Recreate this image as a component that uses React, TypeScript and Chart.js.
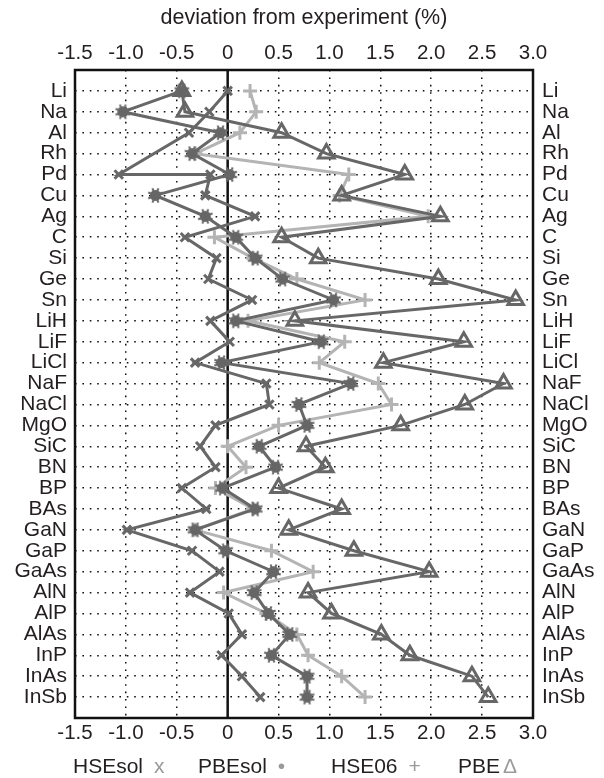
import React, { useEffect, useRef } from 'react';
import { Chart, registerables } from 'chart.js';

Chart.register(...registerables);

const categories = [
  'Li', 'Na', 'Al', 'Rh', 'Pd', 'Cu', 'Ag', 'C', 'Si', 'Ge', 'Sn', 'LiH', 'LiF', 'LiCl', 'NaF',
  'NaCl', 'MgO', 'SiC', 'BN', 'BP', 'BAs', 'GaN', 'GaP', 'GaAs', 'AlN', 'AlP', 'AlAs', 'InP', 'InAs', 'InSb',
];

const xTickValues = [-1.5, -1.0, -0.5, 0, 0.5, 1.0, 1.5, 2.0, 2.5, 3.0];
const axisTitle = 'deviation from experiment (%)';

// HSEsol: no Rh value, two points on the Pd row (as plotted in the reference)
const hseSolCategories = [
  'Li', 'Na', 'Al', 'Pd', 'Pd', 'Cu', 'Ag', 'C', 'Si', 'Ge', 'Sn', 'LiH', 'LiF', 'LiCl', 'NaF',
  'NaCl', 'MgO', 'SiC', 'BN', 'BP', 'BAs', 'GaN', 'GaP', 'GaAs', 'AlN', 'AlP', 'AlAs', 'InP', 'InAs', 'InSb',
];
const hseSolValues = [
  0.0, -0.18, -0.38, -1.07, -0.17, -0.22, 0.27, -0.42, -0.11, -0.19, 0.24, -0.17, 0.02, -0.32, 0.38,
  0.41, -0.12, -0.27, -0.12, -0.45, -0.21, -0.99, -0.35, -0.08, -0.37, 0.01, 0.14, -0.06, 0.14, 0.32,
];

const pbeSolValues = [
  -0.45, -1.03, -0.07, -0.35, 0.02, -0.71, -0.22, 0.08, 0.27, 0.54, 1.04, 0.08, 0.92, -0.06, 1.21,
  0.70, 0.78, 0.31, 0.47, -0.05, 0.27, -0.32, -0.02, 0.45, 0.26, 0.40, 0.61, 0.43, 0.78, 0.78,
];

const hse06Values = [
  0.22, 0.28, 0.12, -0.32, 1.19, 1.10, 1.97, -0.13, 0.25, 0.68, 1.35, 0.20, 1.15, 0.90, 1.48,
  1.61, 0.50, 0.0, 0.18, -0.12, 0.25, -0.32, 0.43, 0.84, -0.04, 0.38, 0.68, 0.79, 1.12, 1.35,
];

const pbeValues = [
  -0.45, -0.42, 0.53, 0.97, 1.74, 1.12, 2.09, 0.53, 0.89, 2.07, 2.83, 0.66, 2.32, 1.53, 2.71,
  2.33, 1.70, 0.77, 0.96, 0.50, 1.12, 0.60, 1.24, 1.98, 0.79, 1.02, 1.51, 1.79, 2.40, 2.56,
];

const legendNames = ['HSEsol', 'PBEsol', 'HSE06', 'PBE'];
const legendSymbols = ['x', '\u2022', '+', '\u0394'];

const DARK = '#676767';
const LIGHT = '#b4b4b4';
const TEXT = '#231f20';
const FONT = "'Liberation Sans', Arial, Helvetica, sans-serif";

export default function App() {
  const canvasRef = useRef<HTMLCanvasElement | null>(null);

  useEffect(() => {
    const canvas = canvasRef.current;
    if (!canvas) return;

    // PBEsol marker: filled spiky dot
    const mk = document.createElement('canvas');
    mk.width = 17;
    mk.height = 17;
    const mc = mk.getContext('2d')!;
    mc.fillStyle = DARK;
    mc.strokeStyle = DARK;
    mc.beginPath();
    mc.arc(8.5, 8.5, 5.5, 0, Math.PI * 2);
    mc.fill();
    mc.lineWidth = 2;
    for (let i = 0; i < 8; i++) {
      const a = (i * Math.PI) / 4 + Math.PI / 8;
      mc.beginPath();
      mc.moveTo(8.5, 8.5);
      mc.lineTo(8.5 + Math.cos(a) * 7.8, 8.5 + Math.sin(a) * 7.8);
      mc.stroke();
    }

    const idx = (c: string) => categories.indexOf(c);

    const hseSolData = hseSolValues.map((v, i) => ({ x: v, y: idx(hseSolCategories[i]) }));
    const pbeSolData = pbeSolValues.map((v, i) => ({ x: v, y: i }));
    const hse06Data = hse06Values.map((v, i) => ({ x: v, y: i }));
    const pbeData = pbeValues.map((v, i) => ({ x: v, y: i }));

    const fmtX = (v: number) => (v === 0 ? '0' : Number(v).toFixed(1));
    const catLabel = (v: number) => (v >= 0 && v < categories.length && Number.isInteger(v) ? categories[v] : '');

    const tickFont = { family: FONT, size: 20.5 };
    const catFont = { family: FONT, size: 21 };

    const framePlugin = {
      id: 'frame',
      beforeDatasetsDraw(chart: any) {
        const { ctx, chartArea } = chart;
        const xs = chart.scales.x;
        const x0 = xs.getPixelForValue(0);
        ctx.save();
        ctx.strokeStyle = '#111';
        ctx.lineWidth = 2.5;
        ctx.beginPath();
        ctx.moveTo(x0, chartArea.top);
        ctx.lineTo(x0, chartArea.bottom);
        ctx.stroke();
        ctx.restore();
      },
      afterDraw(chart: any) {
        const { ctx, chartArea } = chart;
        ctx.save();
        ctx.strokeStyle = '#111';
        ctx.lineWidth = 2.5;
        ctx.strokeRect(chartArea.left, chartArea.top, chartArea.right - chartArea.left, chartArea.bottom - chartArea.top);
        // legend
        const starts = [73, 198, 331, 458];
        ctx.font = `21px ${FONT}`;
        ctx.textBaseline = 'middle';
        ctx.textAlign = 'left';
        legendNames.forEach((n, i) => {
          ctx.fillStyle = TEXT;
          ctx.fillText(n, starts[i], 767);
          const w = ctx.measureText(n).width;
          ctx.fillStyle = '#9a9a9a';
          ctx.fillText(legendSymbols[i], starts[i] + w + (i === 3 ? 3 : 11), 767);
        });
        ctx.restore();
      },
    };

    const chart = new Chart(canvas, {
      type: 'line',
      data: {
        datasets: [
          {
            label: 'HSEsol',
            data: hseSolData,
            borderColor: DARK,
            backgroundColor: DARK,
            borderWidth: 3,
            pointStyle: 'crossRot',
            pointRadius: 6,
            pointBorderWidth: 3,
            pointBorderColor: DARK,
            order: 1,
          },
          {
            label: 'PBEsol',
            data: pbeSolData,
            borderColor: DARK,
            backgroundColor: DARK,
            borderWidth: 3,
            pointStyle: mk,
            pointRadius: 7,
            order: 2,
          },
          {
            label: 'HSE06',
            data: hse06Data,
            borderColor: LIGHT,
            backgroundColor: LIGHT,
            borderWidth: 3,
            pointStyle: 'cross',
            pointRadius: 7,
            pointBorderWidth: 3,
            pointBorderColor: LIGHT,
            order: 4,
          },
          {
            label: 'PBE',
            data: pbeData,
            borderColor: DARK,
            backgroundColor: 'rgba(255,255,255,0)',
            borderWidth: 3,
            pointStyle: 'triangle',
            pointRadius: 9,
            pointBorderWidth: 3,
            pointBorderColor: DARK,
            pointBackgroundColor: 'rgba(255,255,255,0)',
            order: 3,
          },
        ],
      },
      options: {
        animation: false,
        responsive: true,
        maintainAspectRatio: false,
        devicePixelRatio: 1,
        layout: { padding: 0 },
        plugins: {
          legend: { display: false },
          tooltip: { enabled: false },
        },
        elements: { line: { tension: 0 } },
        scales: {
          x: {
            type: 'linear',
            position: 'bottom',
            min: -1.5,
            max: 3.0,
            afterBuildTicks: (s: any) => {
              s.ticks = xTickValues.map((v) => ({ value: v }));
            },
            afterFit: (s: any) => {
              s.height = 60;
            },
            ticks: { font: tickFont, color: TEXT, padding: 3, callback: (v: any) => fmtX(v) },
            grid: {
              drawTicks: false,
              lineWidth: 1.5,
              color: (c: any) => (c.tick && (c.tick.value === 0 || c.tick.value === -1.5 || c.tick.value === 3) ? 'rgba(0,0,0,0)' : '#111'),
            },
            border: { display: false, dash: [1.6, 5.8] },
          },
          xTop: {
            type: 'linear',
            position: 'top',
            min: -1.5,
            max: 3.0,
            afterBuildTicks: (s: any) => {
              s.ticks = xTickValues.map((v) => ({ value: v }));
            },
            afterFit: (s: any) => {
              s.height = 70;
            },
            ticks: { font: tickFont, color: TEXT, padding: 4, callback: (v: any) => fmtX(v) },
            grid: { drawOnChartArea: false, drawTicks: false },
            border: { display: false },
            title: {
              display: true,
              text: axisTitle,
              font: { family: FONT, size: 21.5 },
              color: TEXT,
              padding: { top: 5, bottom: 0 },
            },
          },
          y: {
            type: 'linear',
            position: 'left',
            reverse: true,
            min: -1,
            max: 30,
            afterBuildTicks: (s: any) => {
              s.ticks = categories.map((_, i) => ({ value: i }));
            },
            afterFit: (s: any) => {
              s.width = 75;
            },
            ticks: { font: catFont, color: TEXT, padding: 8, autoSkip: false, callback: (v: any) => catLabel(v) },
            grid: { drawTicks: false, lineWidth: 1.5, color: '#111' },
            border: { display: false, dash: [1.6, 5.8] },
          },
          yRight: {
            type: 'linear',
            position: 'right',
            reverse: true,
            min: -1,
            max: 30,
            afterBuildTicks: (s: any) => {
              s.ticks = categories.map((_, i) => ({ value: i }));
            },
            afterFit: (s: any) => {
              s.width = 71;
            },
            ticks: { font: catFont, color: TEXT, padding: 9, autoSkip: false, callback: (v: any) => catLabel(v) },
            grid: { drawOnChartArea: false, drawTicks: false },
            border: { display: false },
          },
        },
      } as any,
      plugins: [framePlugin],
    });

    return () => chart.destroy();
  }, []);

  return (
    <div style={{ position: 'absolute', left: 0, top: 0, width: 604, height: 778, background: '#fff' }}>
      <canvas ref={canvasRef} />
    </div>
  );
}
